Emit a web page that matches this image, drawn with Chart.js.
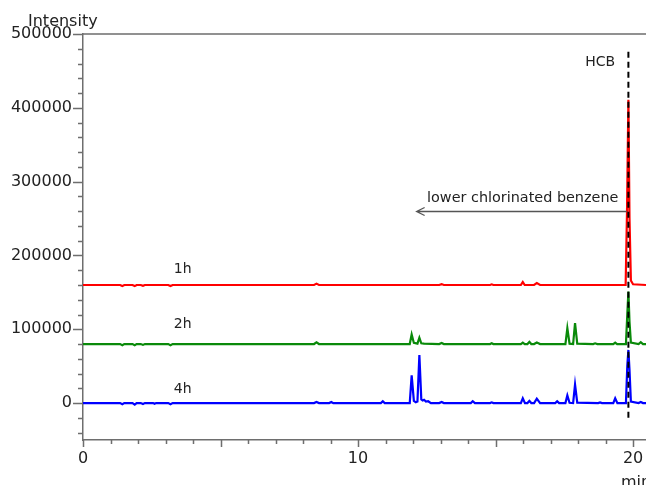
<!DOCTYPE html>
<html>
<head>
<meta charset="utf-8">
<script src="https://cdn.jsdelivr.net/npm/chart.js@4.4.1/dist/chart.umd.min.js"></script>
<style>
	html, body { margin: 0; padding: 0; background: #fff; }
</style>
</head>
<body>
<canvas id="chromChart" width="646" height="485"></canvas>
<script>
	// retention time (min), intensity
	const trace1h = [
		[0, 160000], [1.35, 160000], [1.43, 158500], [1.5, 160000], [1.8, 160000], [1.88, 158500],
		[1.95, 160000], [2.1, 160000], [2.18, 158800], [2.25, 160000], [3.1, 160000], [3.18, 158500],
		[3.26, 160000], [8.4, 160000], [8.49, 161800], [8.58, 160000], [12.95, 160000], [13.04, 161200],
		[13.12, 160000], [14.8, 160000], [14.86, 160900], [14.92, 160000], [15.92, 160000], [15.99, 164000],
		[16.06, 160000], [16.4, 160000], [16.5, 162500], [16.62, 160000], [19.73, 160000], [19.78, 260000],
		[19.83, 411000], [19.87, 250000], [19.92, 166000], [20.0, 161000], [20.47, 160000]
	];
	const trace2h = [
		[0, 80000], [1.35, 80000], [1.43, 78500], [1.5, 80000], [1.8, 80000], [1.88, 78500],
		[1.95, 80000], [2.1, 80000], [2.18, 78800], [2.25, 80000], [3.1, 80000], [3.18, 78500],
		[3.26, 80000], [8.4, 80000], [8.49, 82200], [8.58, 80000], [11.88, 80000], [11.95, 93000],
		[12.03, 81500], [12.16, 80500], [12.23, 88500], [12.3, 81000], [12.4, 80500], [12.95, 80000],
		[13.04, 81500], [13.12, 80000], [14.8, 80000], [14.86, 81000], [14.92, 80000], [15.92, 80000],
		[15.99, 82000], [16.06, 80000], [16.16, 80000], [16.23, 83000], [16.3, 80000], [16.4, 80000],
		[16.5, 82000], [16.62, 80000], [17.54, 80000], [17.61, 101500], [17.69, 80500], [17.82, 80000],
		[17.89, 108500], [17.97, 80500], [18.55, 80000], [18.62, 81000], [18.7, 80000], [19.28, 80000],
		[19.35, 82000], [19.42, 80000], [19.74, 80000], [19.79, 120000], [19.83, 151000], [19.87, 110000],
		[19.92, 82000], [20.2, 80000], [20.28, 82500], [20.36, 80000], [20.47, 80000]
	];
	const trace4h = [
		[0, 0], [1.35, 0], [1.43, -1500], [1.5, 0], [1.8, 0], [1.88, -2000], [1.95, 0], [2.1, 0],
		[2.18, -1200], [2.25, 0], [2.55, 0], [2.6, -1000], [2.66, 0], [3.1, 0], [3.18, -1500], [3.26, 0],
		[8.4, 0], [8.49, 1500], [8.58, 0], [8.95, 0], [9.03, 1500], [9.1, 0], [10.83, 0], [10.9, 2500],
		[10.97, 0], [11.88, 0], [11.95, 37500], [12.03, 3000], [12.1, 1000], [12.16, 2000], [12.23, 65000],
		[12.3, 5000], [12.35, 3500], [12.4, 4500], [12.47, 2000], [12.55, 2500], [12.65, 0], [12.95, 0],
		[13.04, 1500], [13.12, 0], [14.1, 0], [14.17, 2500], [14.25, 0], [14.8, 0], [14.86, 1000],
		[14.92, 0], [15.92, 0], [15.99, 6500], [16.07, 0], [16.16, 0], [16.23, 3000], [16.3, 0],
		[16.4, 0], [16.5, 6000], [16.62, 0], [17.17, 0], [17.24, 2500], [17.31, 0], [17.54, 0],
		[17.61, 10500], [17.69, 500], [17.82, 0], [17.89, 25000], [17.97, 500], [18.73, 0], [18.8, 1000],
		[18.87, 0], [19.28, 0], [19.35, 6500], [19.43, 0], [19.74, 0], [19.79, 50000], [19.83, 72000],
		[19.87, 45000], [19.92, 2000], [20.2, 0], [20.28, 1500], [20.36, 0], [20.47, 0]
	];
	const hcbTime = 19.83;
	const hcbMarker = [[hcbTime, 476000], [hcbTime, -20000]];
	const xLabels = [0, 10, 20];
	const yLabels = [0, 100000, 200000, 300000, 400000, 500000];

	const FONT = "'DejaVu Sans', Verdana, sans-serif";
	const AXIS = '#6e6e6e';
	const TEXT = '#222';

	const toXY = arr => arr.map(p => ({ x: p[0], y: p[1] }));

	// extra drawing: top frame, tick marks, annotations
	const decor = {
		id: 'decor',
		afterDraw(chart) {
			const ctx = chart.ctx;
			const xs = chart.scales.x, ys = chart.scales.y;
			const area = chart.chartArea;
			ctx.save();
			ctx.strokeStyle = AXIS;
			ctx.lineWidth = 1.5;
			ctx.beginPath();
			ctx.moveTo(area.left, area.top);
			ctx.lineTo(area.right, area.top);
			// x ticks, 1 min apart, longer every 5
			for (let t = 0; t <= 20; t++) {
				const px = Math.round(xs.getPixelForValue(t)) + 0.5;
				const len = t % 5 === 0 ? 7 : 4;
				ctx.moveTo(px, area.bottom);
				ctx.lineTo(px, area.bottom + len);
			}
			// y ticks, 20000 apart, longer every 100000
			for (let v = -40000; v <= 500000; v += 20000) {
				const py = Math.round(ys.getPixelForValue(v)) + 0.5;
				const len = v % 100000 === 0 ? 10 : 5;
				ctx.moveTo(area.left - len, py);
				ctx.lineTo(area.left, py);
			}
			ctx.stroke();

			ctx.fillStyle = TEXT;
			ctx.font = '16px ' + FONT;
			ctx.textBaseline = 'alphabetic';
			ctx.textAlign = 'left';
			ctx.fillText('Intensity', 28, 26);
			ctx.fillText('min', 621, 487);

			ctx.font = '14px ' + FONT;
			ctx.fillText('1h', xs.getPixelForValue(3.3), ys.getPixelForValue(176500));
			ctx.fillText('2h', xs.getPixelForValue(3.3), ys.getPixelForValue(101600));
			ctx.fillText('4h', xs.getPixelForValue(3.3), ys.getPixelForValue(14000));
			ctx.textAlign = 'right';
			ctx.fillText('HCB', xs.getPixelForValue(19.35), ys.getPixelForValue(456000));
			ctx.textAlign = 'left';
			ctx.font = '14.4px ' + FONT;
			ctx.fillText('lower chlorinated benzene', xs.getPixelForValue(12.51), ys.getPixelForValue(271800));

			// arrow pointing to earlier retention times
			const ay = Math.round(ys.getPixelForValue(260600)) + 0.5;
			const ax0 = xs.getPixelForValue(12.13);
			const ax1 = xs.getPixelForValue(19.77);
			ctx.strokeStyle = '#555';
			ctx.lineWidth = 1.3;
			ctx.beginPath();
			ctx.moveTo(ax1, ay);
			ctx.lineTo(ax0, ay);
			ctx.moveTo(ax0 + 8, ay - 4);
			ctx.lineTo(ax0, ay);
			ctx.lineTo(ax0 + 8, ay + 4);
			ctx.stroke();
			ctx.restore();
		}
	};

	window.onload = () => {
		const ctx = document.getElementById('chromChart').getContext('2d');
		new Chart(ctx, {
			type: 'line',
			data: {
				datasets: [
					{ label: 'HCB', data: toXY(hcbMarker), borderColor: '#000', borderWidth: 2, borderDash: [6, 4], order: 0 },
					{ label: '1h', data: toXY(trace1h), borderColor: '#ff0000', borderWidth: 2.2, order: 1 },
					{ label: '2h', data: toXY(trace2h), borderColor: '#0a8a0a', borderWidth: 2.2, order: 2 },
					{ label: '4h', data: toXY(trace4h), borderColor: '#0000ff', borderWidth: 2.2, order: 3 }
				]
			},
			options: {
				responsive: false,
				animation: false,
				layout: { padding: { top: 34, left: 0, right: 0, bottom: 0 } },
				elements: { point: { radius: 0 }, line: { tension: 0, fill: false } },
				scales: {
					x: {
						type: 'linear',
						min: 0,
						max: 20.47,
						afterFit: s => { s.height = 45; },
						afterBuildTicks: s => { s.ticks = xLabels.map(v => ({ value: v })); },
						ticks: {
							autoSkip: false,
							maxRotation: 0,
							padding: 1,
							color: TEXT,
							font: { family: FONT, size: 16 },
							callback: v => String(v)
						},
						grid: { drawOnChartArea: false, tickLength: 8, tickColor: 'transparent' },
						border: { color: AXIS, width: 1.5 }
					},
					y: {
						type: 'linear',
						min: -50000,
						max: 500000,
						afterFit: s => { s.width = 83; },
						afterBuildTicks: s => { s.ticks = yLabels.map(v => ({ value: v })); },
						ticks: {
							autoSkip: false,
							padding: 1,
							color: TEXT,
							font: { family: FONT, size: 16 },
							callback: v => String(v)
						},
						grid: { drawOnChartArea: false, tickLength: 10, tickColor: 'transparent' },
						border: { color: AXIS, width: 1.5 }
					}
				},
				plugins: {
					legend: { display: false },
					tooltip: { enabled: false }
				}
			},
			plugins: [decor]
		});
	};
</script>
</body>
</html>
